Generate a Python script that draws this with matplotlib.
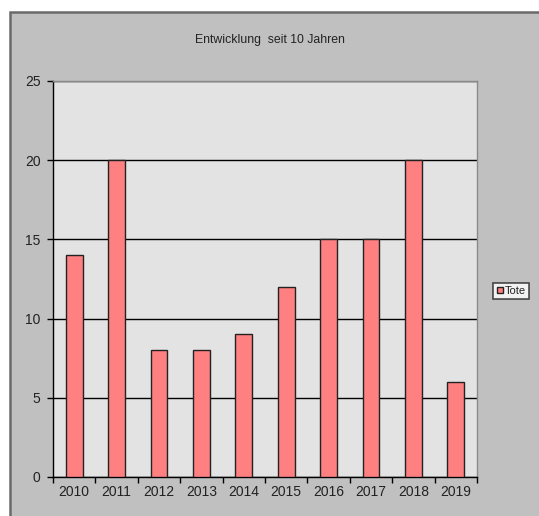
import matplotlib
matplotlib.use("Agg")
import matplotlib.pyplot as plt
from matplotlib.patches import Rectangle, Patch

years = ["2010", "2011", "2012", "2013", "2014", "2015", "2016", "2017", "2018", "2019"]
tote = [14, 20, 8, 8, 9, 12, 15, 15, 20, 6]
y_ticks = [0, 5, 10, 15, 20, 25]

plt.rcParams["font.family"] = ["Liberation Sans", "DejaVu Sans"]
text_color = "#222222"

W, H = 539, 516
fig = plt.figure(figsize=(W / 100, H / 100), dpi=100)
fig.patch.set_facecolor("white")

# grey chart panel, drawn beneath the plot area
panel = Rectangle((10 / W, -0.01), 1.0, (H - 12) / H + 0.01, transform=fig.transFigure,
                  facecolor="#c0c0c0", edgecolor="#6a6a6a", linewidth=1.8, zorder=-5)
fig.patches.append(panel)

ax = fig.add_axes([53 / W, (H - 477) / H, (477 - 53) / W, (477 - 81) / H])
ax.set_facecolor("#e3e3e3")

x = list(range(len(years)))
ax.bar(x, tote, width=0.4, color="#ff8080", edgecolor="#222222", linewidth=1.0, zorder=3)

ax.set_xlim(-0.5, len(years) - 0.5)
ax.set_ylim(0, 25)
ax.set_yticks(y_ticks)
ax.set_yticklabels([str(v) for v in y_ticks], fontsize=10, color=text_color)
ax.yaxis.grid(True, color="black", linewidth=1.0, zorder=1)
ax.set_axisbelow(True)

# category labels centred, tick marks on boundaries
ax.set_xticks(x)
ax.set_xticklabels(years, fontsize=10, color=text_color)
ax.tick_params(axis="x", length=0, pad=6)
ax.set_xticks([i - 0.5 for i in range(len(years) + 1)], minor=True)
ax.tick_params(axis="x", which="minor", length=4, width=1, direction="out")
ax.tick_params(axis="y", length=4, width=1, direction="out", pad=5)

for side in ("left", "bottom"):
    ax.spines[side].set_color("black")
    ax.spines[side].set_linewidth(1.0)
for side in ("top", "right"):
    ax.spines[side].set_color("#8a8a8a")
    ax.spines[side].set_linewidth(1.0)

fig.text(0.5, (H - 40) / H, "Entwicklung  seit 10 Jahren", ha="center", va="center",
         fontsize=8.8, color=text_color)

leg = fig.legend(handles=[Patch(facecolor="#ff8080", edgecolor="#222222", label="Tote")],
                 loc="center", bbox_to_anchor=(511 / W, (H - 291) / H),
                 fontsize=8, frameon=True, fancybox=False, handlelength=0.55, handleheight=0.55,
                 handletextpad=0.15, borderpad=0.3, borderaxespad=0, labelcolor=text_color)
leg.get_frame().set_edgecolor("#222222")
leg.get_frame().set_linewidth(1.2)
leg.get_frame().set_facecolor("white")

fig.savefig("out.png", dpi=100)
